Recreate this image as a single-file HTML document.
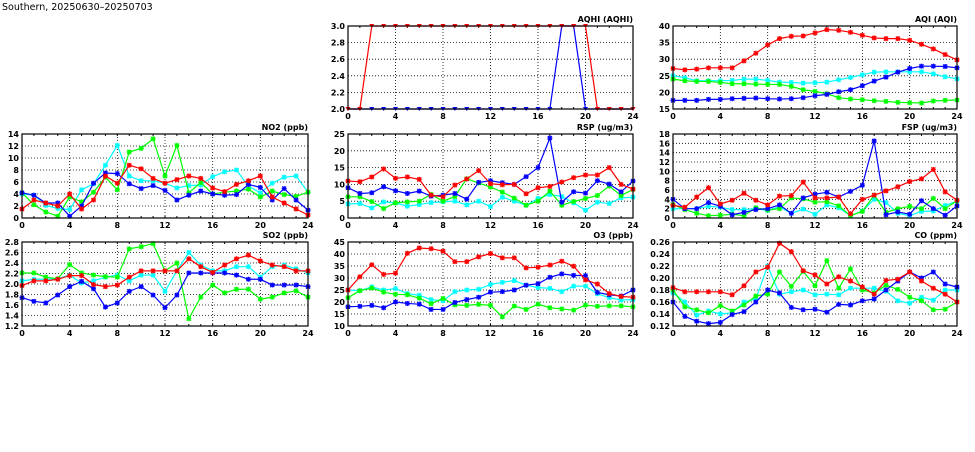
<!DOCTYPE html>
<html><head><meta charset="utf-8"><style>
html,body{margin:0;padding:0;background:#fff;}
svg text{font-family:"DejaVu Sans","Liberation Sans",sans-serif;font-size:8px;font-weight:bold;fill:#000;}
</style></head><body>
<svg id="s" width="975" height="447" xmlns="http://www.w3.org/2000/svg">
<text x="2" y="10" style="font-size:9.5px;font-weight:normal">Southern, 20250630–20250703</text>
</svg>
<script>
const S=document.getElementById('s');const NS='http://www.w3.org/2000/svg';
function el(t,a,txt){const e=document.createElementNS(NS,t);for(const k in a)e.setAttribute(k,a[k]);if(txt!==undefined)e.textContent=txt;S.appendChild(e);return e;}
function panel(p){
 const {x0,x1,y0,y1,min,max,step,title,series,dec,tri}=p;
 const X=i=>x0+(x1-x0)*i/24, Y=v=>y1-(y1-y0)*(v-min)/(max-min);
 for(let i=4;i<24;i+=4)el('line',{x1:X(i),x2:X(i),y1:y0,y2:y1,stroke:'#000','stroke-width':0.8,'stroke-dasharray':'1,2'});
 const n=Math.round((max-min)/step);
 for(let k=0;k<=n;k++){const v=min+k*step;const y=Y(v);
  if(k>0&&k<n)el('line',{x1:x0,x2:x1,y1:y,y2:y,stroke:'#000','stroke-width':0.8,'stroke-dasharray':'1,2'});
  el('text',{x:x0-3,y:y+3,'text-anchor':'end'},v.toFixed(dec));}
 for(let i=0;i<=24;i+=4)el('text',{x:X(i),y:y1+10,'text-anchor':'middle'},i);
 for(let i=0;i<=24;i++){el('line',{x1:X(i),x2:X(i),y1:y1,y2:y1-2,stroke:'#000'});el('line',{x1:X(i),x2:X(i),y1:y0,y2:y0+2,stroke:'#000'});}
 el('text',{x:x1,y:y0-4,'text-anchor':'end'},title);
 for(const [c,d] of series){
  el('polyline',{points:d.map((v,i)=>X(i)+','+Y(v)).join(' '),fill:'none',stroke:c,'stroke-width':1.2});
  d.forEach((v,i)=>{const x=X(i),y=Y(v);
   if(tri)el('path',{d:`M${x-2.5},${y-2}L${x+2.5},${y-2}L${x},${y+2}Z`,fill:c});
   else el('path',{d:`M${x-2.5},${y}H${x+2.5}M${x},${y-2.5}V${y+2.5}M${x-2},${y-2}L${x+2},${y+2}M${x-2},${y+2}L${x+2},${y-2}`,stroke:c,'stroke-width':1.3});});
 }
 el('rect',{x:x0,y:y0,width:x1-x0,height:y1-y0,fill:'none',stroke:'#000','stroke-width':1.2});
}
const R='#ff0000',B='#0000ff',G='#00ff00',C='#00ffff';
const L=[22,308],M=[348,633],Rr=[673,957],T1=[134,218],T2=[242,326],T0=[26,109];
panel({x0:L[0],x1:L[1],y0:T1[0],y1:T1[1],min:0,max:14,step:2,dec:0,title:'NO2 (ppb)',series:[
[C,[4,3.8,2.1,1.6,1.4,4.7,5.7,8.8,12.1,7,6.2,6.2,5.8,5,5.4,5.5,6.9,7.7,8,5.3,4.2,5.8,6.8,7,4.3]],
[G,[4.2,2.2,1,0.3,3.5,2.7,4.3,6.8,4.7,11,11.6,13.2,7,12.1,4.2,5.9,4,4.3,4.5,4.8,3.5,4.5,3.9,3.6,4.3]],
[B,[4.2,3.8,2.5,2.5,0.3,2,5.8,7.5,7.4,5.7,4.9,5.4,4.6,3,3.8,4.5,4,3.8,3.9,5.6,5.1,3,4.9,3,1.3]],
[R,[1.5,3,2.5,2,4,1.5,3,7,5.8,8.8,8.2,6.6,5.8,6.4,7,6.6,5,4.4,5.6,6.2,7,3.5,2.5,1.5,0.5]]]});
panel({x0:L[0],x1:L[1],y0:T2[0],y1:T2[1],min:1.2,max:2.8,step:0.2,dec:1,title:'SO2 (ppb)',series:[
[C,[2.06,2.09,2.09,2.1,2.17,2.02,2.06,2.13,2.17,2.06,2.17,2.17,1.86,2.25,2.6,2.36,2.25,2.25,2.33,2.33,2.13,2.33,2.36,2.29,2.21]],
[G,[2.21,2.21,2.13,2.1,2.37,2.21,2.17,2.14,2.13,2.67,2.71,2.77,2.25,2.4,1.34,1.75,1.98,1.83,1.9,1.9,1.71,1.75,1.83,1.87,1.75]],
[B,[1.74,1.67,1.64,1.79,1.95,2.05,1.91,1.56,1.64,1.86,1.95,1.79,1.55,1.79,2.21,2.21,2.21,2.21,2.17,2.09,2.09,1.98,1.98,1.98,1.95]],
[R,[1.97,2.06,2.06,2.09,2.16,2.16,1.99,1.95,1.98,2.13,2.25,2.25,2.25,2.25,2.48,2.33,2.22,2.36,2.48,2.55,2.44,2.36,2.33,2.25,2.25]]]});
panel({x0:M[0],x1:M[1],y0:T1[0],y1:T1[1],min:0,max:25,step:5,dec:0,title:'RSP (ug/m3)',series:[
[C,[4.2,4.3,3,4.8,4.5,3.5,4,4.6,4.8,5,3.9,5,3.4,6.2,5,3.8,5.8,7,6.4,4.5,2.3,4.7,4.3,6,6.2]],
[G,[6.3,6.3,4.9,2.8,4.5,4.8,5,7,5,6.4,11.7,10.4,9.2,7.7,5.9,3.8,5,8,3.8,4.9,5.8,6.7,9.5,6.7,8.5]],
[B,[9,7.3,7.5,9.3,8.1,7.3,8,6.5,6.8,7.3,5.6,10.6,11.1,10.5,10,12.3,15,23.8,4.7,7.8,7.4,11.1,10.1,7.8,11]],
[R,[11,10.8,12.2,14.6,11.8,12.2,11.5,6.8,6.3,9.8,11.6,14.1,10.2,9.9,10,7.2,9,9.4,10.7,12,12.8,12.8,15,10,8.6]]]});
panel({x0:M[0],x1:M[1],y0:T2[0],y1:T2[1],min:10,max:45,step:5,dec:0,title:'O3 (ppb)',series:[
[C,[25,24.7,26.3,25,25.6,23.5,22.8,21,20.5,24.3,25,25.3,27.3,28.2,28.9,27,26,25.7,24.3,26.6,26.6,23.4,21.8,20.8,21]],
[G,[21.8,24.7,25.8,24.1,23.2,23,21.6,19.3,21.5,18.8,18.6,19,18.6,13.8,18.3,16.9,19.1,17.6,17.1,16.6,18.7,18.2,18.4,18.4,18]],
[B,[18,18.2,18.6,17.6,20,19.4,19.1,16.9,16.9,19.8,21,22,24.1,24.3,25,27,27.6,30.3,31.7,31.1,31,24,23,22.5,25]],
[R,[25,30.5,35.5,31.5,32,40.3,42.5,42.2,41.2,36.8,36.8,38.8,40.2,38.4,38.4,34.2,34.5,35.4,37,34.9,29.2,27.5,23.5,22.3,22]]]});
panel({x0:Rr[0],x1:Rr[1],y0:T1[0],y1:T1[1],min:0,max:18,step:2,dec:0,title:'FSP (ug/m3)',series:[
[C,[2,2,2,2.5,2.3,1.8,1.8,2,1.6,2.4,1,1.9,0.8,2.8,2.2,0.5,1.5,4,3.3,1,0.5,1.4,1.5,2.7,3.6]],
[G,[2.9,1.8,1,0.5,0.6,0.8,0.5,2.2,1.7,2,4.3,4.1,3.4,3.5,2.6,0.5,1.4,4.9,1.2,2,2.5,2,4.2,2,3.7]],
[B,[4,2,2,3.3,2.5,0.7,1.2,1.8,2,2.8,1,4.3,5.1,5.5,4.5,5.7,7,16.5,0.7,1.3,0.8,3.7,2,0.6,2.6]],
[R,[2.7,2.3,4.5,6.5,3,3.8,5.3,3.8,2.8,4.7,4.8,7.7,4.3,4.3,4.5,0.9,4,4.9,5.8,6.7,7.8,8.4,10.4,5.6,3.8]]]});
panel({x0:Rr[0],x1:Rr[1],y0:T2[0],y1:T2[1],min:0.12,max:0.26,step:0.02,dec:2,title:'CO (ppm)',series:[
[C,[.175,.16,.138,.145,.14,.142,.16,.165,.22,.173,.177,.18,.172,.173,.172,.183,.183,.183,.178,.162,.158,.168,.163,.18,.18]],
[G,[.18,.152,.147,.142,.154,.145,.155,.17,.173,.21,.186,.211,.187,.229,.183,.215,.18,.175,.188,.181,.168,.162,.147,.148,.16]],
[B,[.16,.136,.128,.124,.126,.139,.144,.16,.18,.175,.151,.147,.148,.143,.156,.155,.162,.165,.18,.195,.21,.2,.21,.19,.185]],
[R,[.184,.177,.177,.177,.177,.172,.187,.21,.218,.258,.244,.212,.205,.19,.202,.195,.185,.173,.196,.198,.21,.195,.183,.173,.16]]]});
panel({x0:Rr[0],x1:Rr[1],y0:T0[0],y1:T0[1],min:15,max:40,step:5,dec:0,title:'AQI (AQI)',series:[
[C,[25,24.4,23.5,23.5,23.5,23.6,24,24,23.6,23.1,23,22.8,22.9,23.1,23.8,24.5,25.3,26.1,26.2,26.2,26.2,26.2,25.6,24.7,24.1]],
[G,[24,23.5,23.3,23.3,23,22.6,22.6,22.5,22.4,22.4,21.8,20.8,20.3,19.6,18.4,18,17.8,17.5,17.3,17,16.9,16.8,17.4,17.6,17.7]],
[B,[17.6,17.6,17.6,17.9,17.9,18.1,18.2,18.3,18.1,18,18.1,18.4,19,19.4,20.2,20.8,22,23.4,24.6,26.1,27.2,27.9,27.9,27.8,27.4]],
[R,[27.2,26.8,27,27.4,27.4,27.4,29.5,31.8,34.3,36.2,36.9,37,37.9,38.9,38.7,38.1,37.2,36.4,36.2,36.2,35.7,34.5,33.1,31.4,29.8]]]});
const aqB=[],aqR=[];for(let i=0;i<=24;i++){aqB.push(i==18||i==19?3:2);aqR.push(i>=2&&i<=20?3:2);}
panel({x0:M[0],x1:M[1],y0:T0[0],y1:T0[1],min:2,max:3,step:0.2,dec:1,title:'AQHI (AQHI)',tri:true,series:[[B,aqB],[R,aqR]]});
</script>
</body></html>
